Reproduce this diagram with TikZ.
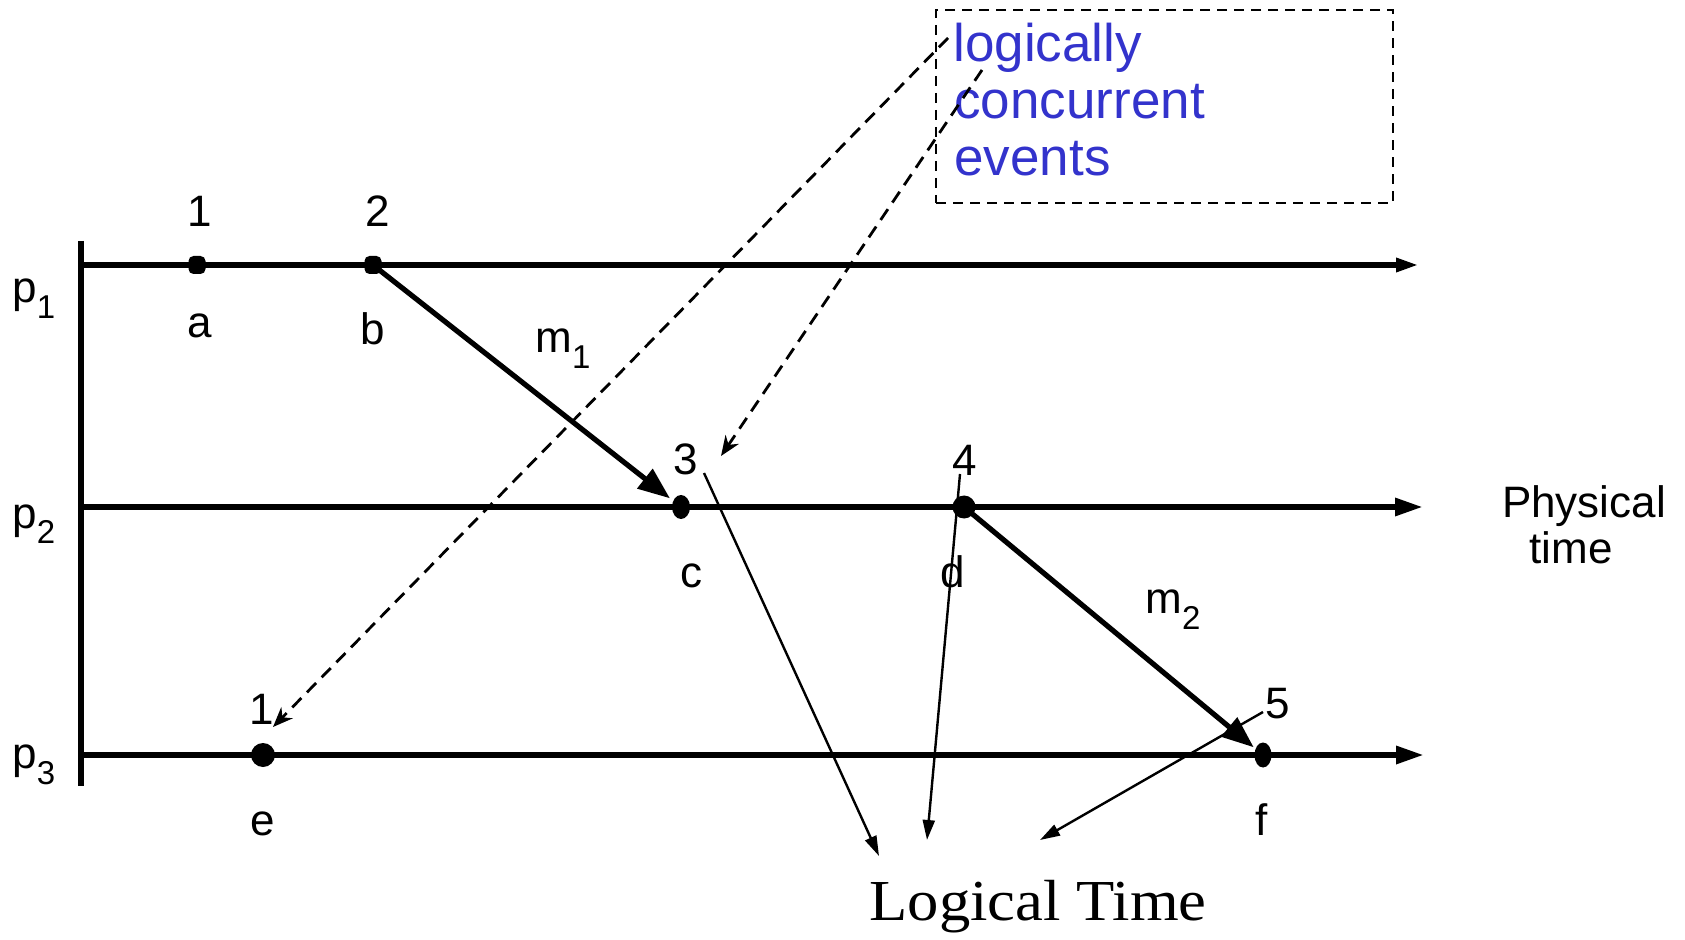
\documentclass[tikz,border=0pt]{standalone}
\usepackage{fontspec}
\usepackage{graphicx}
\setmainfont{Liberation Sans}
\newfontfamily\serifLT{Liberation Serif}
\usetikzlibrary{arrows.meta,shapes.geometric}
\definecolor{lcblue}{RGB}{51,51,204}
\newcommand\lsub[1]{\raisebox{-8pt}{\fontsize{16.5}{16.5}\selectfont #1}}
\begin{document}
\begin{tikzpicture}[x=0.5pt,y=-0.5pt,
 lbl/.style={anchor=base,inner sep=0pt,font=\fontsize{22}{24}\selectfont},
 axisline/.style={line width=3pt},
 timeline/.style={line width=3pt,-{Triangle[length=14pt,width=8.5pt]}},
 msg/.style={line width=2.6pt,-{Triangle[length=16pt,width=12pt]}},
 hint/.style={line width=1.4pt,dash pattern=on 6.5pt off 4pt,-{Stealth[length=10pt,width=8pt]}},
 toLT/.style={line width=1.2pt,-{Triangle[length=10pt,width=6pt]}},
 evdot/.style={fill=black,draw=none,inner sep=0pt},
 bluetext/.style={anchor=base west,inner sep=0pt,text=lcblue,font=\fontsize{26.5}{28.5}\selectfont},
]
\useasboundingbox (0,0) rectangle (1685,940);

% axis and time lines
\coordinate (ax1) at (81,241);
\coordinate (ax2) at (81,786);
\coordinate (t1s) at (81,265);
\coordinate (t1e) at (1419,265);
\coordinate (t2s) at (81,507);
\coordinate (t2e) at (1423,507);
\coordinate (t3s) at (81,755);
\coordinate (t3e) at (1424,755);
\draw[axisline] (ax1) -- (ax2);
\draw[timeline,-{Triangle[length=11.5pt,width=6.5pt]}] (t1s) -- (t1e);
\draw[timeline] (t2s) -- (t2e);
\draw[timeline] (t3s) -- (t3e);

% events
\node[evdot,rectangle,rounded corners=2.5pt,minimum width=8.5pt,minimum height=9pt] (a) at (197,265) {};
\node[evdot,rectangle,rounded corners=2.5pt,minimum width=8.5pt,minimum height=9pt] (b) at (373,265) {};
\node[evdot,ellipse,minimum width=9pt,minimum height=12pt] (c) at (681,507) {};
\node[evdot,circle,minimum size=11.5pt] (d) at (964,507) {};
\node[evdot,circle,minimum size=12pt] (e) at (263,755) {};
\node[evdot,ellipse,minimum width=8.5pt,minimum height=12.5pt] (f) at (1263,755) {};

% messages
\draw[msg,shorten >=7pt] (b.center) -- (c.center);
\draw[msg,shorten >=6pt] (d.center) -- (f.center);

% labels
\node[lbl] (n1) at (200,227) {1};
\node[lbl] (n2) at (378,227) {2};
\node[lbl] (la) at (200,338) {a};
\node[lbl] (lb) at (373,345) {b};
\node[lbl] (n3) at (686,475) {3};
\node[lbl] (n4) at (965,476) {4};
\node[lbl] (lc) at (691,587) {c};
\node[lbl] (ld) at (953,587) {d};
\node[lbl] (n1e) at (262,724) {1};
\node[lbl] (le) at (263,835) {e};
\node[lbl] (n5) at (1278,718) {5};
\node[lbl] (lf) at (1262,835) {f};
\node[lbl,anchor=base west] (p1) at (12,303) {p\lsub{1}};
\node[lbl,anchor=base west] (p2) at (12,528) {p\lsub{2}};
\node[lbl,anchor=base west] (p3) at (12,768) {p\lsub{3}};
\node[lbl,anchor=base west] (m1) at (535,353) {m\lsub{1}};
\node[lbl,anchor=base west] (m2) at (1145,613) {m\lsub{2}};
\node[lbl] (ph) at (1584,517) {Physical};
\node[lbl] (tm) at (1571,563) {time};

% concurrent events box
\node[draw,dash pattern=on 5pt off 3.5pt,line width=1pt,minimum width=228.5pt,minimum height=96.5pt,inner sep=0pt] (box) at (1164.5,106.5) {};
\node[bluetext] (lc1) at (953,62) {logically};
\node[bluetext] (lc2) at (954,119) {concurrent};
\node[bluetext] (lc3) at (954,176) {events};

\coordinate (h1s) at (948,38);
\coordinate (h1e) at (273,727);
\coordinate (h2s) at (982,70);
\coordinate (h2e) at (721,456);
\draw[hint] (h1s) -- (h1e);
\draw[hint] (h2s) -- (h2e);

% logical time
\node[anchor=base,inner sep=0pt,font=\serifLT\fontsize{29}{31}\selectfont] (lt) at (1038,920) {\scalebox{1.08}[1]{Logical Time}};
\coordinate (l3s) at (704,473);
\coordinate (l3e) at (879,856);
\coordinate (l4s) at (960,474);
\coordinate (l4e) at (927,840);
\coordinate (l5s) at (1263,712);
\coordinate (l5e) at (1040,840);
\draw[toLT] (l3s) -- (l3e);
\draw[toLT] (l4s) -- (l4e);
\draw[toLT] (l5s) -- (l5e);
\end{tikzpicture}
\end{document}
